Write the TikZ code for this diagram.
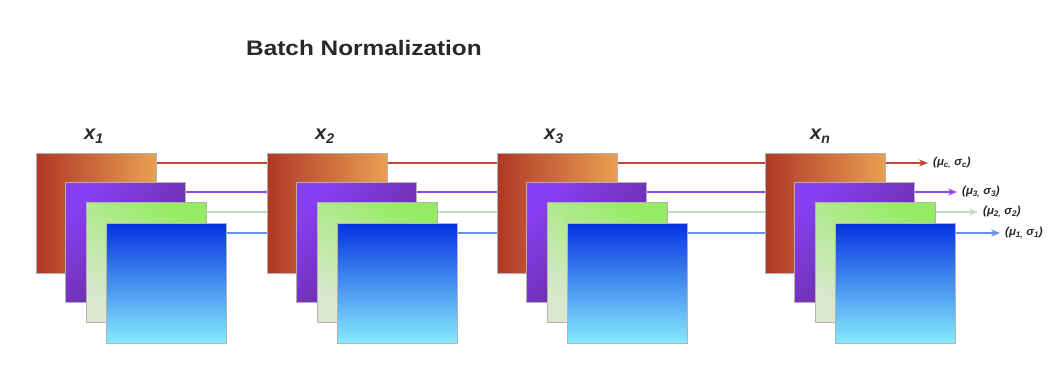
\documentclass[tikz,border=0pt]{standalone}
\usepackage{fontspec}
\setmainfont{Liberation Sans}
\usetikzlibrary{arrows.meta,positioning,backgrounds}

\definecolor{redL}{RGB}{176,56,38}
\definecolor{redR}{RGB}{234,160,82}
\definecolor{purL}{RGB}{136,62,242}
\definecolor{purD}{RGB}{100,40,140}
\definecolor{grnT}{RGB}{150,235,100}
\definecolor{grnB}{RGB}{218,232,208}
\definecolor{bluT}{RGB}{5,50,225}
\definecolor{bluM}{RGB}{70,130,232}
\definecolor{bluB}{RGB}{135,235,255}
\definecolor{lnred}{RGB}{190,72,52}
\definecolor{lnpur}{RGB}{140,70,235}
\definecolor{lngrn}{RGB}{195,222,185}
\definecolor{lnblu}{RGB}{100,145,225}
\definecolor{ink}{RGB}{40,40,40}

\tikzset{
  fmap/.style={draw=gray!60, line width=0.6pt, minimum width=120pt, minimum height=120pt, inner sep=0pt, anchor=north west},
  redmap/.style={fmap, left color=redL, right color=redR},
  purmap/.style={fmap, top color=purL, bottom color=purD, shading angle=45},
  grnmap/.style={fmap, top color=grnT, bottom color=grnB, shading angle=-35},
  blumap/.style={fmap, top color=bluT, middle color=bluM, bottom color=bluB},
  chan/.style={line width=1.3pt, shorten >=5pt, -{Stealth[length=9pt,width=7pt]}},
  stat/.style={anchor=west, inner sep=0pt, text=ink, font=\fontsize{11.5}{13}\selectfont\bfseries\itshape},
  xlab/.style={anchor=base west, inner sep=0pt, text=ink, font=\fontsize{20}{22}\selectfont\bfseries\itshape}
}

\begin{document}
\begin{tikzpicture}[x=1pt,y=1pt]
\useasboundingbox (0,0) rectangle (1062,386);
% titulo
\node[text=ink, font=\fontsize{21}{25}\selectfont\bfseries] (title) at (364,338) {\scalebox{1.16}[1]{Batch Normalization}};
% pila x1
\node[redmap] (r1) at (36,233) {};
\node[purmap] (p1) at (65,204) {};
\node[grnmap] (g1) at (86,184) {};
\node[blumap] (b1) at (106,163) {};
% pila x2
\node[redmap] (r2) at (267,233) {};
\node[purmap] (p2) at (296,204) {};
\node[grnmap] (g2) at (317,184) {};
\node[blumap] (b2) at (337,163) {};
% pila x3
\node[redmap] (r3) at (497,233) {};
\node[purmap] (p3) at (526,204) {};
\node[grnmap] (g3) at (547,184) {};
\node[blumap] (b3) at (567,163) {};
% pila xn
\node[redmap] (rn) at (765,233) {};
\node[purmap] (pn) at (794,204) {};
\node[grnmap] (gn) at (815,184) {};
\node[blumap] (bn) at (835,163) {};
% etiquetas
\node[xlab] (x1) at (84,246) {x\textsubscript{1}};
\node[xlab] (x2) at (315,246) {x\textsubscript{2}};
\node[xlab] (x3) at (544,246) {x\textsubscript{3}};
\node[xlab] (xn) at (810,246) {x\textsubscript{n}};
\node[stat] (sc) at (933,223) {(μ\textsubscript{c,} σ\textsubscript{c})};
\node[stat] (s3) at (962,194) {(μ\textsubscript{3,} σ\textsubscript{3})};
\node[stat] (s2) at (983,174) {(μ\textsubscript{2,} σ\textsubscript{2})};
\node[stat] (s1) at (1005,153) {(μ\textsubscript{1,} σ\textsubscript{1})};
% canales
\begin{scope}[on background layer]
\draw[chan, lnred] ([yshift=-10pt]r1.north east) -- (sc.west);
\draw[chan, lnpur] ([yshift=-10pt]p1.north east) -- (s3.west);
\draw[chan, lngrn] ([yshift=-10pt]g1.north east) -- (s2.west);
\draw[chan, lnblu] ([yshift=-10pt]b1.north east) -- (s1.west);
\end{scope}
\end{tikzpicture}
\end{document}
